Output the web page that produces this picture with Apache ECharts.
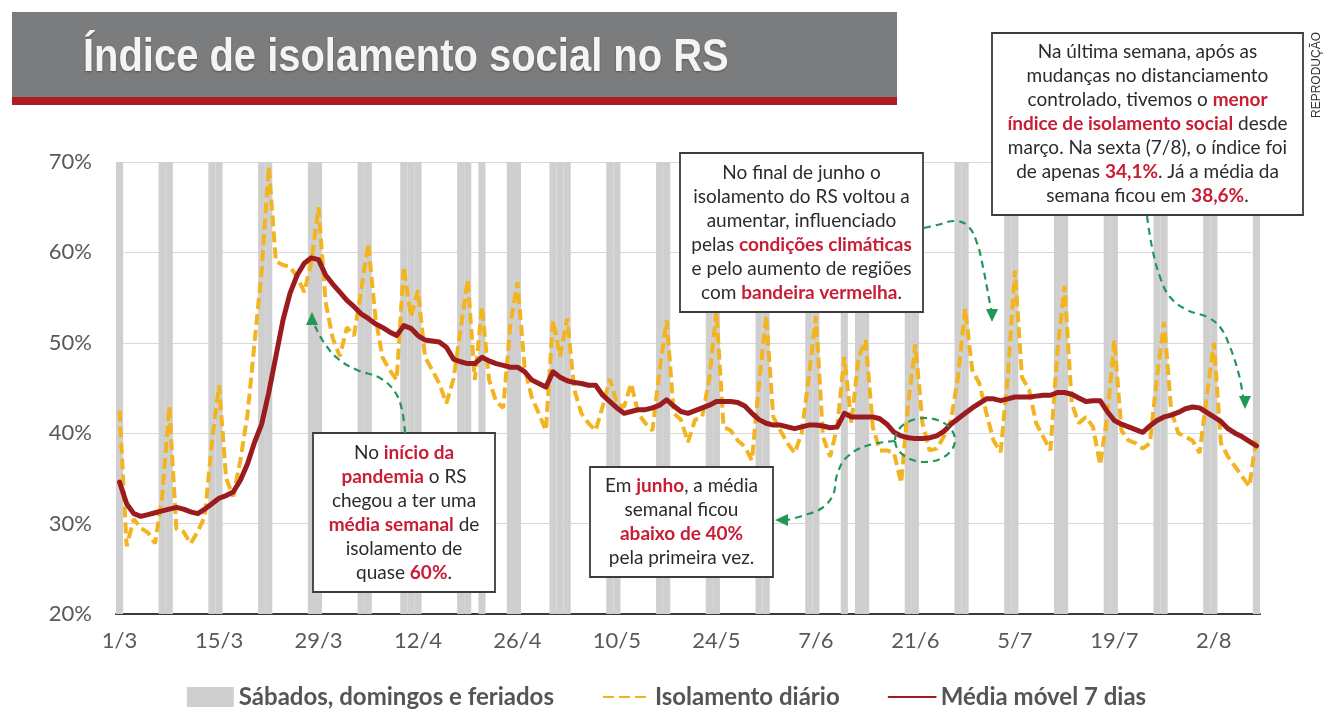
<!DOCTYPE html>
<html>
<head>
<meta charset="utf-8">
<script src="https://cdn.jsdelivr.net/npm/echarts/dist/echarts.min.js"></script>
<style>
  html, body { margin: 0; padding: 0; background: #ffffff; }
  #chart { width: 1333px; height: 709px; }
</style>
</head>
<body>
<div id="chart"></div>
<script>
// ---- Categories: each day from 1/3 to 8/8 (2020) ----
const monthLengths = [[3, 31], [4, 30], [5, 31], [6, 30], [7, 31], [8, 8]];
const dates = [];
monthLengths.forEach(([m, n]) => { for (let d = 1; d <= n; d++) dates.push(d + '/' + m); });

// Weekends and holidays (gray columns)
const offDays = ['1/3','7/3','8/3','14/3','15/3','21/3','22/3','28/3','29/3',
  '4/4','5/4','10/4','11/4','12/4','18/4','19/4','21/4','25/4','26/4',
  '1/5','2/5','3/5','9/5','10/5','16/5','17/5','23/5','24/5','30/5','31/5',
  '6/6','7/6','11/6','13/6','14/6','20/6','21/6','27/6','28/6',
  '4/7','5/7','11/7','12/7','18/7','19/7','25/7','26/7','1/8','2/8','8/8'];

// Daily isolation index (%)
const dailyIsolation = [
  42.5,27.5,30.5,29.5,29.0,27.8,33,43,29.4,29.1,
  27.8,29.1,30.8,39,45.3,35,33,37,42,50,
  58,69.5,59,58.6,58.4,57.3,55.6,59,65,54.5,
  50.5,48.5,51.7,50.8,55.8,61,52.9,48.4,47.0,45.9,
  58.4,52.9,55.8,48.4,47.0,45.5,43.3,46,51.5,57,
  45.9,54,45.9,43.5,42.8,52,56.7,47.3,44.0,42.2,
  40.3,52.5,48.5,52.7,44.8,42.2,41.1,40.3,43,46,
  43.3,42.9,45.5,42.2,41.1,40.3,47,52.5,42.2,41.5,
  39.0,41.5,41.8,46,53.5,40.7,40.3,39.2,38.5,37.0,
  45.5,53,41.8,40.3,38.9,37.8,40,46.2,52.9,39.6,
  37.4,40.7,48.4,41.1,48.4,50.3,40.7,38.1,38.1,37.8,
  34.5,43.3,49.8,41.1,38.1,38.3,39.6,41.4,46.2,53.8,
  47,45.5,42.2,39.2,37.9,46.2,58,46.2,44.8,41.1,
  39.6,38.1,49.2,56.3,43.3,41.1,41.8,40.7,36.5,41.8,
  50.3,40.3,39.2,38.9,38.3,38.9,46.2,52.3,42.5,40.0,
  39.6,39.2,37.8,44.0,50,38.9,37.4,36.3,35.2,34.1,
  39.6
];

// 7-day moving average (%)
const movingAvg7 = [
  34.6,32.2,31.1,30.8,31.0,31.2,31.4,31.6,31.8,31.6,
  31.3,31.1,31.6,32.2,32.8,33.1,33.5,34.8,36.6,39,
  41,44.5,48.5,52.5,55.5,57.5,58.8,59.4,59.2,57.5,
  56.5,55.6,54.7,54.0,53.2,52.7,52.1,51.7,51.2,50.8,
  51.9,51.6,50.8,50.3,50.2,50.1,49.5,48.2,47.9,47.7,
  47.7,48.4,48.0,47.7,47.5,47.3,47.3,46.8,45.9,45.5,
  45.1,46.8,46.2,45.8,45.6,45.5,45.3,45.3,44.2,43.5,
  42.8,42.2,42.4,42.6,42.6,42.8,43.1,43.7,43.0,42.4,
  42.2,42.5,42.8,43.1,43.5,43.5,43.5,43.4,43.0,42.2,
  41.5,41.1,40.9,40.9,40.7,40.5,40.7,40.9,40.9,40.8,
  40.6,40.7,42.2,41.8,41.8,41.8,41.8,41.6,41.0,40.1,
  39.7,39.5,39.4,39.4,39.5,39.7,40.2,41.0,41.6,42.2,
  42.8,43.3,43.8,43.8,43.6,43.8,44.0,44.0,44.0,44.1,
  44.2,44.2,44.5,44.5,44.3,43.9,43.5,43.6,43.6,42.4,
  41.4,41.0,40.7,40.4,40.1,40.8,41.4,41.8,42.0,42.3,
  42.7,42.9,42.8,42.3,41.8,41.3,40.5,40.0,39.6,39.1,
  38.6
];

const yMin = 20, yMax = 70, yStep = 10;
const seriesNames = ['Sábados, domingos e feriados', 'Isolamento diário', 'Média móvel 7 dias'];
const titleText = 'Índice de isolamento social no RS';

// ---- Styles ----
const RED_TXT = '#c81d35';
const GREEN = '#23965a';
const YELLOW = '#f3b422';
const DARKRED = '#9c1b1e';
const BODY_FONT = 'Lato, "Open Sans", sans-serif';

function noteBox(x, y, w, h, text) {
  return [
    { type: 'rect', z: 100, shape: { x: x, y: y, width: w, height: h },
      style: { fill: '#ffffff', stroke: '#3c3c3c', lineWidth: 1.8 } },
    { type: 'text', z: 101, x: x + w / 2, y: y + h / 2,
      style: {
        text: text, fill: '#2b2b2b', fontSize: 19, fontFamily: BODY_FONT,
        align: 'center', verticalAlign: 'middle', lineHeight: 24,
        rich: { r: { fill: RED_TXT, fontWeight: 'bold', fontSize: 19, fontFamily: BODY_FONT, lineHeight: 24 } }
      } }
  ];
}
function dashedPath(points) {
  return { type: 'polyline', z: 102, shape: { points: points, smooth: 0.4 },
    style: { stroke: GREEN, lineWidth: 2.2, lineDash: [7, 5], fill: null } };
}
function arrowHead(points) {
  return { type: 'polygon', z: 102, shape: { points: points }, style: { fill: GREEN } };
}

const graphics = [].concat(
  [
    { type: 'rect', z: 90, shape: { x: 12, y: 12, width: 885, height: 86 }, style: { fill: '#7b7c7e' } },
    { type: 'rect', z: 90, shape: { x: 12, y: 97, width: 885, height: 8 }, style: { fill: '#b01b22' } },
    { type: 'text', z: 91, x: 83, y: 58, scaleX: 0.868,
      style: { text: titleText, fill: '#f4f4f4', fontSize: 46, fontWeight: 'bold',
        fontFamily: '"Liberation Sans", Arial, sans-serif', align: 'left', verticalAlign: 'middle',
        textShadowColor: 'rgba(0,0,0,0.35)', textShadowBlur: 2, textShadowOffsetY: 1 } },
    { type: 'text', z: 91, x: 1317, y: 75, rotation: Math.PI / 2,
      style: { text: 'REPRODUÇÃO', fill: '#333333', fontSize: 12,
        fontFamily: '"Liberation Sans", Arial, sans-serif', align: 'center', verticalAlign: 'middle' } }
  ],
  noteBox(992, 33, 311, 182,
    'Na última semana, após as\nmudanças no distanciamento\ncontrolado, tivemos o {r|menor}\n{r|índice de isolamento social} desde\nmarço. Na sexta (7/8), o índice foi\nde apenas {r|34,1%}. Já a média da\nsemana ficou em {r|38,6%}.'),
  noteBox(680, 153, 243, 159,
    'No final de junho o\nisolamento do RS voltou a\naumentar, influenciado\npelas {r|condições climáticas}\ne pelo aumento de regiões\ncom {r|bandeira vermelha}.'),
  noteBox(313, 433, 182, 159,
    'No {r|início da}\n{r|pandemia} o RS\nchegou a ter uma\n{r|média semanal} de\nisolamento de\nquase {r|60%}.'),
  noteBox(590, 467, 183, 110,
    'Em {r|junho}, a média\nsemanal ficou\n{r|abaixo de 40%}\npela primeira vez.'),
  [
    dashedPath([[405,433],[402,410],[395,392],[380,378],[357,370],[337,358],[323,341],[315,326]]),
    arrowHead([[312,312],[306,325],[318,325]]),
    dashedPath([[895,441],[866,446],[846,458],[837,475],[833,495],[822,508],[805,515],[787,520]]),
    arrowHead([[775,520],[788,514],[788,526]]),
    dashedPath([[924,228],[937,225],[955,221],[968,226],[977,243],[983,267],[988,293],[991,309]]),
    arrowHead([[992,322],[986,309],[998,309]]),
    dashedPath([[1147,216],[1152,247],[1160,277],[1170,297],[1187,310],[1207,317],[1220,327],[1230,347],[1239,375],[1243,396]]),
    arrowHead([[1245,409],[1239,396],[1251,396]]),
    { type: 'ellipse', z: 102, shape: { cx: 925, cy: 440, rx: 30, ry: 22 },
      style: { stroke: GREEN, lineWidth: 2.2, lineDash: [7, 5], fill: null } }
  ]
);

const hiddenSymbol = { color: 'rgba(0,0,0,0)', borderWidth: 0, opacity: 0 };

const chart = echarts.init(document.getElementById('chart'), null, { renderer: 'canvas' });
chart.setOption({
  animation: false,
  backgroundColor: '#ffffff',
  grid: { left: 116, right: 73, top: 162, bottom: 95, containLabel: false },
  legend: {
    left: 'center', top: 680, itemWidth: 47, itemHeight: 20, itemGap: 48,
    textStyle: { fontFamily: BODY_FONT, fontWeight: 'bold', fontSize: 24, color: '#555555' },
    data: [
      { name: seriesNames[0], icon: 'rect' },
      { name: seriesNames[1], itemStyle: hiddenSymbol },
      { name: seriesNames[2], itemStyle: hiddenSymbol }
    ]
  },
  xAxis: {
    type: 'category', data: dates, boundaryGap: true,
    axisLine: { lineStyle: { color: '#3a3a3a', width: 2 } },
    axisTick: { interval: 13, length: 7, lineStyle: { color: '#3a3a3a', width: 2 } },
    axisLabel: { interval: 13, margin: 16, fontFamily: BODY_FONT, fontSize: 22, color: '#595959' },
    splitLine: { show: false }
  },
  yAxis: {
    type: 'value', min: yMin, max: yMax, interval: yStep,
    axisLine: { show: false }, axisTick: { show: false },
    axisLabel: { formatter: '{value}%', margin: 24, fontFamily: BODY_FONT, fontSize: 22, color: '#595959' },
    splitLine: { lineStyle: { color: '#d9d9d9', width: 1 } }
  },
  series: [
    {
      name: seriesNames[0], type: 'bar', z: 1,
      data: dates.map(d => offDays.includes(d) ? yMax : '-'),
      barWidth: '100%', barCategoryGap: '0%',
      itemStyle: { color: '#cfcfcf' }, silent: true
    },
    {
      name: seriesNames[1], type: 'line', z: 2, data: dailyIsolation,
      symbol: 'none', smooth: false,
      lineStyle: { color: YELLOW, width: 4, type: [11, 5] },
      itemStyle: { color: YELLOW }
    },
    {
      name: seriesNames[2], type: 'line', z: 3, data: movingAvg7,
      symbol: 'none', smooth: false,
      lineStyle: { color: DARKRED, width: 5, join: 'round', cap: 'round' },
      itemStyle: { color: DARKRED }
    }
  ],
  graphic: graphics
});
</script>
</body>
</html>
